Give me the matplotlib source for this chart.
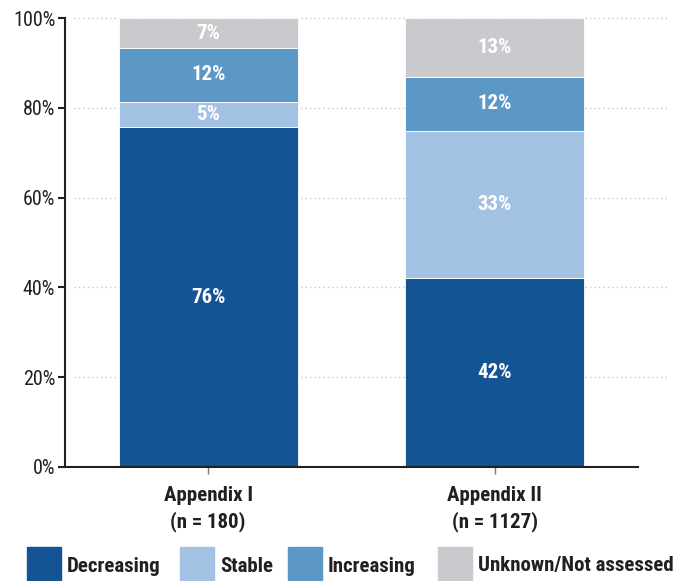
import matplotlib
matplotlib.use("Agg")
import numpy as np
import matplotlib.pyplot as plt
from matplotlib.patches import Rectangle
from matplotlib import font_manager

# the original uses a condensed Helvetica-like face; take the closest one installed
installed = {f.name for f in font_manager.fontManager.ttflist}
wanted = ["Liberation Sans Narrow", "Arial Narrow", "Roboto Condensed", "Archivo Narrow",
          "Barlow Semi Condensed", "Asap Condensed"]
narrow = [n for n in wanted if n in installed][:1]
plt.rcParams['font.family'] = narrow + ['Liberation Sans', 'DejaVu Sans']

# data (percent of species)
groups = ["Appendix I\n(n = 180)", "Appendix II\n(n = 1127)"]
categories = ["Decreasing", "Stable", "Increasing", "Unknown/Not assessed"]
decreasing = [75.7, 42.0]
stable = [5.7, 32.9]
increasing = [11.9, 12.0]
unknown = [6.7, 13.1]
labels_txt = [["76%", "5%", "12%", "7%"], ["42%", "33%", "12%", "13%"]]
colors = ["#135594", "#a3c2e3", "#5b98c6", "#c9cacd"]
yticks = [0, 20, 40, 60, 80, 100]

dark = "#231f20"
fs_b = 15 if narrow else 12      # bold labels
fs_t = 14.5 if narrow else 12    # tick labels

fig = plt.figure(figsize=(6.83, 5.81), dpi=100)
ax = fig.add_axes([65 / 683, 114 / 581, 573 / 683, 449 / 581])

x = np.arange(len(groups))
series = [decreasing, stable, increasing, unknown]
bottom = np.zeros(len(groups))
for vals, col in zip(series, colors):
    ax.bar(x, vals, width=0.625, bottom=bottom, color=col,
           edgecolor="white", linewidth=0.6, zorder=2)
    bottom += np.array(vals)

# segment labels
bottom = np.zeros(len(groups))
for k, vals in enumerate(series):
    for i in range(len(groups)):
        ax.text(x[i], bottom[i] + vals[i] / 2, labels_txt[i][k], ha="center", va="center",
                color="white", fontsize=fs_b, fontweight="bold", zorder=3)
    bottom += np.array(vals)

# dotted grid running past the axes on the right
ax.hlines(yticks[1:], -0.47, 1.605, colors="#c8c8c8", linestyles=(0, (1, 2.2)),
          linewidth=1.0, zorder=0, clip_on=False)

ax.set_xlim(-0.5, 1.5)
ax.set_ylim(0, 100)
ax.set_yticks(yticks)
ax.set_yticklabels([f"{t}%" for t in yticks], fontsize=fs_t, color=dark)
ax.set_xticks(x)
ax.set_xticklabels(groups, fontsize=fs_b, fontweight="bold", color=dark, linespacing=1.35)
ax.tick_params(axis="y", length=5, width=1.5, color=dark, pad=2)
ax.tick_params(axis="x", length=5, width=1, color="#777777", pad=9)

for s in ["top", "right"]:
    ax.spines[s].set_visible(False)
for s in ["left", "bottom"]:
    ax.spines[s].set_color(dark)
    ax.spines[s].set_linewidth(1.5)

# legend along the bottom
legend_x = [27, 180, 288, 438]
for px, col, name in zip(legend_x, colors, categories):
    fig.add_artist(Rectangle((px / 683, 1 / 581), 34 / 683, 33 / 581,
                             transform=fig.transFigure, color=col))
    fig.text((px + 40) / 683, 15 / 581, name, fontsize=fs_b, fontweight="bold",
             color=dark, va="center", ha="left")

fig.savefig("out.png", dpi=100)
